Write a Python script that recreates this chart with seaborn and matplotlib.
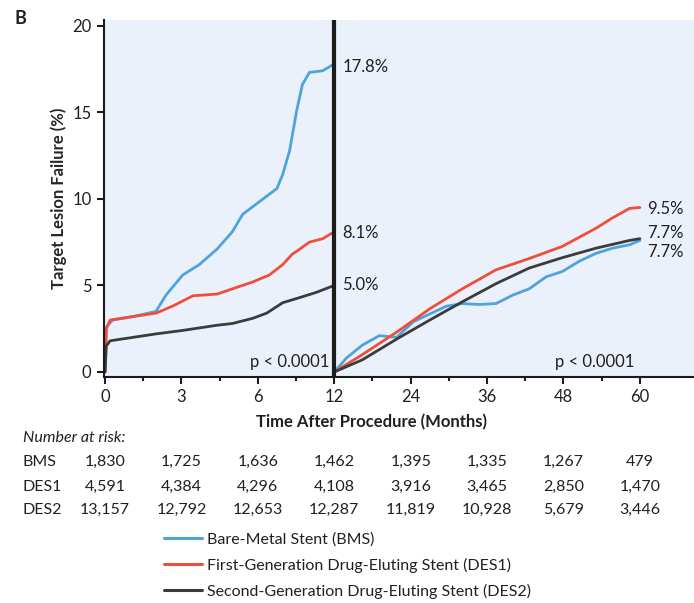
import numpy as np
import pandas as pd
import matplotlib.pyplot as plt
import seaborn as sns
from matplotlib.transforms import blended_transform_factory

sns.set_style("ticks")
plt.rcParams['font.family'] = ['Lato', 'DejaVu Sans']
plt.rcParams['text.color'] = '#231f20'

# ---- data ----
groups = ['BMS', 'DES1', 'DES2']
group_names = ['Bare-Metal Stent (BMS)',
               'First-Generation Drug-Eluting Stent (DES1)',
               'Second-Generation Drug-Eluting Stent (DES2)']
colors = ['#4fa3dd', '#f04e3a', '#3b3b3b']

# 0-12 months
bms_t1 = [0, 0.05, 0.3, 1.1, 2.0, 2.4, 3.05, 3.7, 4.4, 5.0, 5.4, 6.15, 7.5, 7.95, 8.5, 9.05, 9.5, 10.05, 11.1, 12]
bms_v1 = [0, 2.6, 3.0, 3.2, 3.5, 4.45, 5.6, 6.2, 7.1, 8.1, 9.1, 9.85, 10.6, 11.4, 12.8, 15.1, 16.6, 17.3, 17.4, 17.8]
des1_t1 = [0, 0.05, 0.2, 1.1, 2.0, 2.65, 3.45, 4.4, 5.0, 5.8, 6.9, 7.95, 8.7, 9.3, 10.05, 11.1, 12]
des1_v1 = [0, 2.5, 3.0, 3.2, 3.4, 3.8, 4.4, 4.5, 4.8, 5.2, 5.6, 6.2, 6.8, 7.1, 7.5, 7.7, 8.1]
des2_t1 = [0, 0.05, 0.2, 1.1, 2.0, 3.05, 4.4, 5.0, 5.8, 6.7, 7.95, 9.3, 10.6, 12]
des2_v1 = [0, 1.5, 1.8, 2.0, 2.2, 2.4, 2.7, 2.8, 3.1, 3.4, 4.0, 4.3, 4.6, 5.0]

# 12-60 months (landmark)
bms_t2 = [12, 13.9, 16.4, 19.1, 21.8, 24.4, 27, 29.6, 32.1, 34.8, 37.4, 40.1, 42.6, 45.3, 47.8, 50.5, 53.1, 55.7, 58.4, 60]
bms_v2 = [0, 0.8, 1.55, 2.1, 2.0, 2.9, 3.35, 3.8, 3.95, 3.9, 3.95, 4.45, 4.8, 5.5, 5.8, 6.4, 6.85, 7.15, 7.35, 7.6]
des1_t2 = [12, 16.4, 21.8, 27, 32.1, 37.4, 42.6, 47.8, 53.1, 55.7, 58.4, 60]
des1_v2 = [0, 1.0, 2.3, 3.65, 4.8, 5.9, 6.55, 7.25, 8.3, 8.9, 9.45, 9.5]
des2_t2 = [12, 16.4, 21.8, 27, 32.1, 37.4, 42.6, 47.8, 53.1, 58.4, 60]
des2_v2 = [0, 0.7, 1.9, 3.0, 4.05, 5.1, 6.0, 6.6, 7.15, 7.6, 7.7]

end_labels_1 = ['17.8%', '8.1%', '5.0%']
end_labels_2 = ['7.7%', '9.5%', '7.7%']

x_ticks = [0, 3, 6, 12, 24, 36, 48, 60]
at_risk = {
    'BMS': ['1,830', '1,725', '1,636', '1,462', '1,395', '1,335', '1,267', '479'],
    'DES1': ['4,591', '4,384', '4,296', '4,108', '3,916', '3,465', '2,850', '1,470'],
    'DES2': ['13,157', '12,792', '12,653', '12,287', '11,819', '10,928', '5,679', '3,446'],
}

rows = []
for g, segs in zip(groups, [[(bms_t1, bms_v1), (bms_t2, bms_v2)],
                            [(des1_t1, des1_v1), (des1_t2, des1_v2)],
                            [(des2_t1, des2_v1), (des2_t2, des2_v2)]]):
    for k, (t, v) in enumerate(segs):
        for ti, vi in zip(t, v):
            rows.append({'group': g, 'seg': k, 'time': ti, 'tlf': vi})
df = pd.DataFrame(rows)

# axis: equal spacing between labelled times
xp = [-3, 0, 3, 6, 12, 24, 36, 48, 60, 72]
fp = [-1, 0, 1, 2, 3, 4, 5, 6, 7, 8]


def fwd(x):
    return np.interp(x, xp, fp)


def inv(x):
    return np.interp(x, fp, xp)


fig = plt.figure(figsize=(6.94, 6.03), dpi=100)
ax = fig.add_axes([104 / 694, 1 - 377 / 603, 1 - 104 / 694, 357 / 603])
ax.set_xscale('function', functions=(fwd, inv))
ax.set_facecolor('#eaf1fa')

sns.lineplot(data=df, x='time', y='tlf', hue='group', units='seg', estimator=None,
             palette=dict(zip(groups, colors)), lw=2.0, ax=ax, legend=False, sort=False)

ax.axvline(12, color='#1c1c1c', lw=3, zorder=5)

ax.set_xlim(-0.04, 68.5)
ax.set_ylim(-0.29, 20.33)
ax.set_xticks(x_ticks)
ax.set_xticklabels([str(t) for t in x_ticks], fontsize=12)
ax.set_xticks([1.5, 4.5, 9, 18, 30, 42, 54], minor=True)
ax.set_yticks([0, 5, 10, 15, 20])
ax.set_yticklabels(['0', '5', '10', '15', '20'], fontsize=12)
ax.tick_params(axis='both', which='major', length=5, width=1.5, color='#1c1c1c', pad=4,
               labelcolor='#231f20')
ax.tick_params(axis='x', which='minor', length=3, width=1.5, color='#1c1c1c')
for s in ['top', 'right']:
    ax.spines[s].set_visible(False)
for s in ['left', 'bottom']:
    ax.spines[s].set_linewidth(1.5)
    ax.spines[s].set_color('#1c1c1c')

ax.set_xlabel('')
ax.set_ylabel('Target Lesion Failure (%)', fontsize=12, fontweight='bold')
ax.yaxis.set_label_coords(-0.062, 0.5)
fig.text(372 / 694, 1 - 422 / 603, 'Time After Procedure (Months)', fontsize=12,
         fontweight='bold', ha='center', va='center')

# end-point labels
for lab, y in zip(end_labels_1, [17.6, 8.0, 5.0]):
    ax.annotate(lab, (12, y), xytext=(6, 0), textcoords='offset points',
                fontsize=12, va='center', ha='left')
for lab, y in zip(end_labels_2, [6.95, 9.4, 8.05]):
    ax.annotate(lab, (60, y), xytext=(5, 0), textcoords='offset points',
                fontsize=12, va='center', ha='left')

ax.text(11.6, 0.55, 'p < 0.0001', fontsize=12, ha='right', va='center')
ax.text(59.2, 0.55, 'p < 0.0001', fontsize=12, ha='right', va='center')

fig.text(14 / 694, 1 - 18 / 603, 'B', fontsize=13, fontweight='bold', ha='left', va='center')

# number at risk table
fig.text(23 / 694, 1 - 438 / 603, 'Number at risk:', fontsize=11.5, style='italic',
         ha='left', va='center')
trans = blended_transform_factory(ax.transData, fig.transFigure)
for g, ypix in zip(groups, [462, 487, 510]):
    fig.text(23 / 694, 1 - ypix / 603, g, fontsize=11.5, ha='left', va='center')
    for t, n in zip(x_ticks, at_risk[g]):
        ax.text(t, 1 - ypix / 603, n, fontsize=11.5, ha='center', va='center',
                transform=trans, clip_on=False)

handles = [plt.Line2D([], [], color=c, lw=2.2) for c in colors]
fig.legend(handles, group_names, loc='upper left', bbox_to_anchor=(164 / 694, 1 - 532 / 603),
           frameon=False, fontsize=11.5, handlelength=2.4, handletextpad=0.3,
           labelspacing=0.7, borderpad=0, borderaxespad=0)

fig.savefig('out.png', dpi=100)
